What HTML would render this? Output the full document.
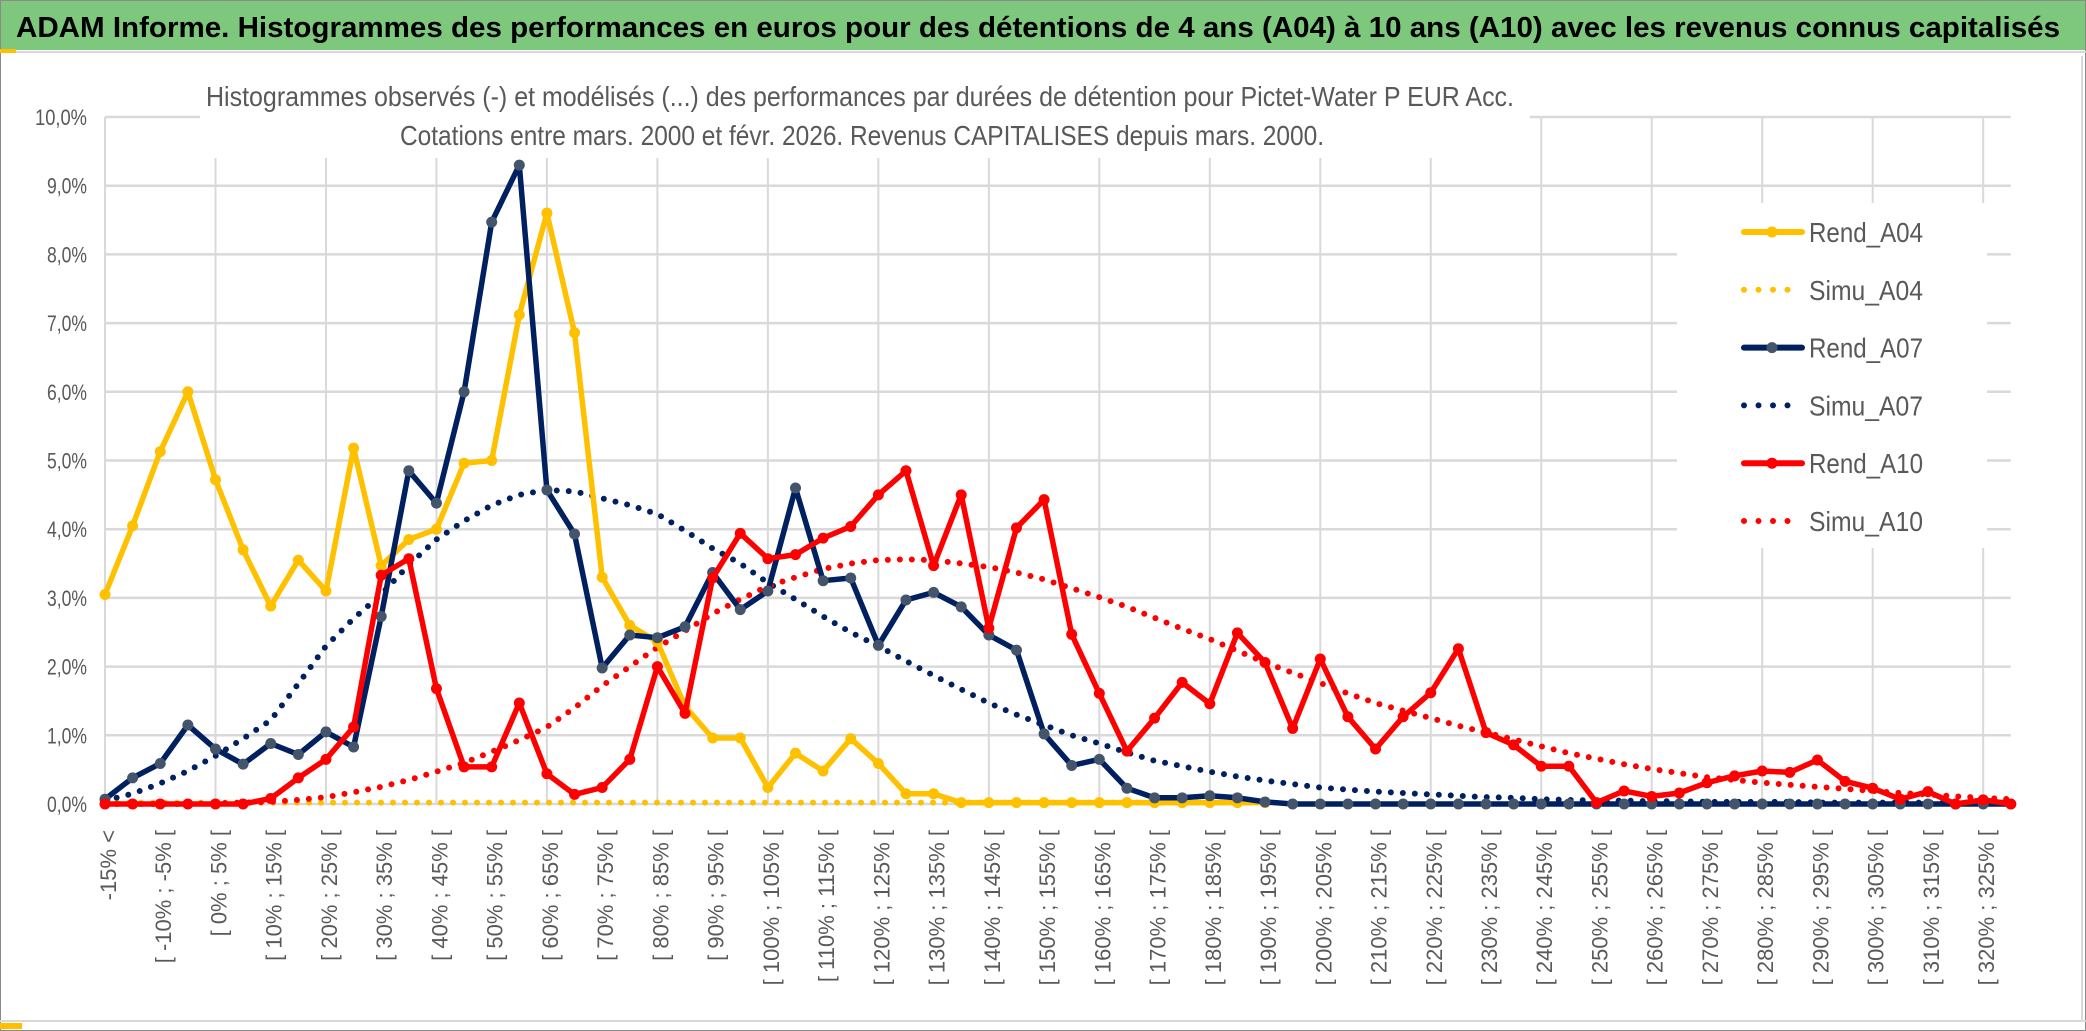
<!DOCTYPE html>
<html><head><meta charset="utf-8">
<style>
html,body{margin:0;padding:0;background:#fff;}
svg{display:block;}
text{font-family:"Liberation Sans",sans-serif;}
</style></head>
<body>
<svg id="chart" width="2086" height="1031" viewBox="0 0 2086 1031" xmlns="http://www.w3.org/2000/svg">
  <rect x="0.5" y="0.5" width="2085" height="1030" fill="#fff" stroke="#8a8a8a" stroke-width="1"/>
  <rect x="1" y="1" width="2084" height="49" fill="#7dc87d"/>
  <line x1="0" y1="52" x2="2086" y2="52" stroke="#d9d9d9" stroke-width="2"/>
  <rect x="0" y="49" width="16" height="4" fill="#ffc000"/>
  <text x="16" y="37" font-size="29" font-weight="bold" fill="#000" textLength="2044" lengthAdjust="spacingAndGlyphs">ADAM Informe. Histogrammes des performances en euros pour des détentions de 4 ans (A04) à 10 ans (A10) avec les revenus connus capitalisés</text>
  <line x1="2082" y1="56" x2="2082" y2="1020" stroke="#d9d9d9" stroke-width="2"/>
  <line x1="0" y1="1021" x2="2086" y2="1021" stroke="#d9d9d9" stroke-width="2"/>
  <rect x="0" y="1023" width="22" height="6" fill="#ffc000"/>
  <g id="grid"></g>
  <rect x="200" y="70" width="1330" height="88" fill="#fff"/>
  <text x="206" y="106" font-size="28" fill="#595959" textLength="1308" lengthAdjust="spacingAndGlyphs">Histogrammes observés (-) et modélisés (...) des performances par durées de détention pour Pictet-Water P EUR Acc.</text>
  <text x="400" y="145" font-size="28" fill="#595959" textLength="924" lengthAdjust="spacingAndGlyphs">Cotations entre mars. 2000 et févr. 2026. Revenus CAPITALISES depuis mars. 2000.</text>
  <g id="yaxis"></g>
  <g id="xaxis"></g>
  <g id="series"></g>
  <g id="legend"></g>
</svg>
<script>
const categories = (function(){const c=["-15% <"];for(let a=-15;a<=330;a+=5){c.push("[ "+a+"% ; "+(a+5)+"% [");}return c.slice(0,70);})();
const yTicks = [0,1,2,3,4,5,6,7,8,9,10];
const yTickLabels = ["0,0%","1,0%","2,0%","3,0%","4,0%","5,0%","6,0%","7,0%","8,0%","9,0%","10,0%"];
const rendA04 = [3.05,4.05,5.13,6.0,4.72,3.7,2.88,3.55,3.1,5.18,3.47,3.85,4.0,4.96,5.0,7.12,8.6,6.86,3.3,2.6,2.36,1.42,0.96,0.96,0.24,0.74,0.48,0.95,0.59,0.15,0.15,0.02,0.02,0.02,0.02,0.02,0.02,0.02,0.02,0.02,0.02,0.02,0.02];
const simuA04 = [0.02,0.02,0.02,0.02,0.02,0.02,0.02,0.02,0.02,0.02,0.02,0.02,0.02,0.02,0.02,0.02,0.02,0.02,0.02,0.02,0.02,0.02,0.02,0.02,0.02,0.02,0.02,0.02,0.02,0.02,0.02,0.02,0.02,0.02,0.02,0.02,0.02,0.02,0.02,0.02,0.02,0.02,0.02];
const rendA07 = [0.07,0.38,0.59,1.15,0.8,0.58,0.88,0.72,1.05,0.83,2.73,4.85,4.38,6.0,8.47,9.3,4.57,3.93,1.98,2.46,2.42,2.58,3.37,2.83,3.1,4.6,3.25,3.29,2.31,2.97,3.08,2.87,2.46,2.24,1.02,0.56,0.65,0.23,0.09,0.09,0.12,0.09,0.03,0,0,0,0,0,0,0,0,0,0,0,0,0,0,0,0,0,0,0,0,0,0,0,0,0,0,0];
const simuA07 = [0.05,0.15,0.3,0.48,0.7,0.95,1.22,1.75,2.3,2.7,3.05,3.48,3.85,4.12,4.35,4.5,4.57,4.55,4.45,4.35,4.22,3.98,3.72,3.5,3.22,2.98,2.73,2.5,2.3,2.08,1.87,1.67,1.47,1.3,1.15,1.0,0.88,0.75,0.63,0.55,0.47,0.4,0.34,0.29,0.24,0.21,0.18,0.16,0.14,0.12,0.1,0.09,0.07,0.06,0.05,0.05,0.04,0.04,0.03,0.03,0.03,0.03,0.02,0.02,0.02,0.02,0.02,0.02,0.02,0.02];
const rendA10 = [0,0,0,0,0,0,0.08,0.38,0.65,1.12,3.33,3.57,1.68,0.54,0.54,1.47,0.44,0.14,0.24,0.65,2.0,1.32,3.29,3.94,3.57,3.63,3.87,4.04,4.5,4.85,3.47,4.5,2.56,4.02,4.43,2.47,1.61,0.77,1.25,1.77,1.46,2.49,2.06,1.1,2.11,1.27,0.8,1.27,1.62,2.26,1.04,0.86,0.55,0.55,0.02,0.19,0.11,0.16,0.31,0.41,0.48,0.46,0.64,0.33,0.23,0.07,0.18,0,0.06,0];
const simuA10 = [0,0,0,0,0.01,0.02,0.03,0.06,0.1,0.17,0.25,0.35,0.47,0.6,0.76,0.93,1.12,1.4,1.72,2.0,2.28,2.52,2.77,2.98,3.17,3.3,3.42,3.5,3.55,3.56,3.55,3.5,3.45,3.37,3.27,3.14,3.01,2.87,2.71,2.55,2.4,2.23,2.06,1.91,1.76,1.61,1.47,1.36,1.25,1.14,1.04,0.94,0.84,0.74,0.66,0.58,0.51,0.45,0.39,0.35,0.31,0.28,0.25,0.22,0.19,0.16,0.14,0.11,0.09,0.07];

const NS="http://www.w3.org/2000/svg";
const X0=105, STEP=27.62, Y0=804, YPER=68.7;
function xs(i){return X0+i*STEP;}
function ys(v){return Y0-v*YPER;}
function mk(tag,attrs,parent){const e=document.createElementNS(NS,tag);for(const k in attrs)e.setAttribute(k,attrs[k]);parent.appendChild(e);return e;}
const grid=document.getElementById('grid'),yax=document.getElementById('yaxis'),xax=document.getElementById('xaxis'),ser=document.getElementById('series'),leg=document.getElementById('legend');
const xEnd=xs(categories.length-1);
yTicks.forEach((t,k)=>{
  const l=mk('line',{x1:X0,y1:ys(t),x2:xEnd,y2:ys(t),stroke:'#d9d9d9','stroke-width':2.5},grid);
  
  
  const tx=mk('text',{x:87,y:ys(t)+8,'font-size':22,fill:'#595959','text-anchor':'end',textLength:yTickLabels[k].length>4?52:40,lengthAdjust:'spacingAndGlyphs'},yax);
  tx.textContent=yTickLabels[k];
  
  
});
for(let i=0;i<categories.length;i+=4){
  const l=mk('line',{x1:xs(i),y1:ys(10),x2:xs(i),y2:Y0,stroke:'#d9d9d9','stroke-width':2},grid);
  
  
}
for(let i=0;i<categories.length;i+=2){
  const x=xs(i)+11, y=830;
  const tx=mk('text',{x:x,y:y,'font-size':22,fill:'#595959','text-anchor':'end',transform:`rotate(-90 ${x} ${y})`},xax);
  tx.textContent=categories[i];
  
  
}
function series(data,color,markerColor,dotted,name){
  const pts=data.map((v,i)=>xs(i).toFixed(1)+','+ys(v).toFixed(1)).join(' ');
  const g=mk('g',{},ser);
  
  
  if(dotted){
    mk('polyline',{points:pts,fill:'none',stroke:color,'stroke-width':6,'stroke-linecap':'round','stroke-dasharray':'0 12'},g);
  }else{
    mk('polyline',{points:pts,fill:'none',stroke:color,'stroke-width':5.5,'stroke-linejoin':'round'},g);
    data.forEach((v,i)=>{
      const c=mk('circle',{cx:xs(i),cy:ys(v),r:5.5,fill:markerColor},g);
      
      
    });
  }
}
series(simuA04,'#ffc000','#ffc000',true,'simu-a04-line');
series(simuA07,'#002060','#002060',true,'simu-a07-line');
series(simuA10,'#ff0000','#ff0000',true,'simu-a10-line');
series(rendA04,'#ffc000','#ffc000',false,'rend-a04-line');
series(rendA07,'#002060','#44546a',false,'rend-a07-line');
series(rendA10,'#ff0000','#ff0000',false,'rend-a10-line');

const lb=mk('rect',{x:1677,y:203,width:310,height:345,fill:'#fff'},leg);


const legNames=["Rend_A04","Simu_A04","Rend_A07","Simu_A07","Rend_A10","Simu_A10"];
const legColors=['#ffc000','#ffc000','#002060','#002060','#ff0000','#ff0000'];
const legMarker=['#ffc000','#ffc000','#44546a','#002060','#ff0000','#ff0000'];
legNames.forEach((n,k)=>{
  const y=232+k*57.8;
  const g=mk('g',{},leg);
  
  
  if(k%2===0){
    mk('line',{x1:1744,y1:y,x2:1802,y2:y,stroke:legColors[k],'stroke-width':6,'stroke-linecap':'round'},g);
    mk('circle',{cx:1772,cy:y,r:5.5,fill:legMarker[k]},g);
  }else{
    mk('line',{x1:1744,y1:y,x2:(k===5?1800:1790),y2:y,stroke:legColors[k],'stroke-width':6,'stroke-linecap':'round','stroke-dasharray':'0 14.5'},g);
  }
  const t=mk('text',{x:1809,y:y+10,'font-size':28,fill:'#595959',textLength:114,lengthAdjust:'spacingAndGlyphs'},g);
  t.textContent=n;
});
</script>
</body></html>
